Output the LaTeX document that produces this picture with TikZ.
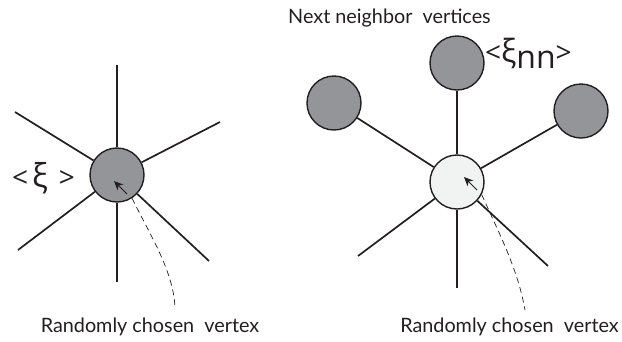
\documentclass[tikz,border=0pt]{standalone}
\usepackage{fontspec}
\setmainfont{Lato}
\newfontfamily\grk{Open Sans}
\usetikzlibrary{arrows.meta}
\definecolor{vgray}{RGB}{147,149,152}
\definecolor{vlight}{RGB}{241,242,242}
\definecolor{ink}{RGB}{35,31,32}
\begin{document}
\begin{tikzpicture}[x=1pt,y=-1pt,
  vtx/.style={circle,draw=ink,line width=1.4pt,minimum size=54pt,inner sep=0pt},
  edge/.style={draw=ink,line width=1.7pt},
  ptr/.style={draw=ink,-{Stealth[length=9pt,width=8pt,inset=2.5pt]},line width=1pt},
  lead/.style={draw=ink,dash pattern=on 6pt off 4pt,line width=0.7pt},
  lbl/.style={font=\fontsize{19.8}{22}\selectfont,inner sep=0pt,text=ink},
  sym/.style={inner sep=0pt,text=ink,font=\grk}]
\path[use as bounding box] (0,0) rectangle (622,341);
% left star
\node[vtx,fill=vgray] (L) at (117,175) {};
\coordinate (L1) at (117,65);
\coordinate (L2) at (15,112);
\coordinate (L3) at (220,122);
\coordinate (L4) at (18,250);
\coordinate (L5) at (117,282);
\coordinate (L6) at (209,261);
\foreach \e in {L1,L2,L3,L4,L5,L6} \draw[edge] (L) -- (\e);
\coordinate (La) at (127,194);
\coordinate (Lb) at (114,181);
\draw[ptr] (La) -- (Lb);
\coordinate (Lend) at (175,307);
\draw[lead] (L.-57) .. controls (150,235) and (173,270) .. (Lend);
\node[lbl,anchor=base] (Ltxt) at (150,332) {Randomly chosen\ \ vertex};
\node[sym,anchor=center] (Lxi) at (43.5,178) {\fontsize{28}{30}\selectfont <\hspace{4pt}{\fontsize{33}{34}\selectfont ξ}\hspace{11pt}>};
% right star
\node[vtx,fill=vlight] (R) at (457,182) {};
\node[vtx,fill=vgray] (N1) at (334,103) {};
\node[vtx,fill=vgray] (N2) at (457,63) {};
\node[vtx,fill=vgray] (N3) at (581,111) {};
\coordinate (R4) at (358,256);
\coordinate (R5) at (457,288);
\coordinate (R6) at (548,266);
\foreach \e in {N1,N2,N3,R4,R5,R6} \draw[edge] (R) -- (\e);
\coordinate (Ra) at (477,190);
\coordinate (Rb) at (464,177);
\draw[ptr] (Ra) -- (Rb);
\coordinate (Rend) at (525,310);
\draw[lead] (R.-27) .. controls (500,235) and (518,270) .. (Rend);
\node[lbl,anchor=base] (Rtxt) at (509.5,332) {Randomly chosen\ \ vertex};
\node[lbl,anchor=base] (Ntxt) at (389.5,23) {Next neighbor\ \ vertices};
\node[sym,anchor=west] (Rxi) at (485,53) {\fontsize{28}{30}\selectfont <{\fontsize{32}{34}\selectfont ξ}\raisebox{-6pt}{\fontsize{32}{34}\selectfont nn}>};
\end{tikzpicture}
\end{document}
